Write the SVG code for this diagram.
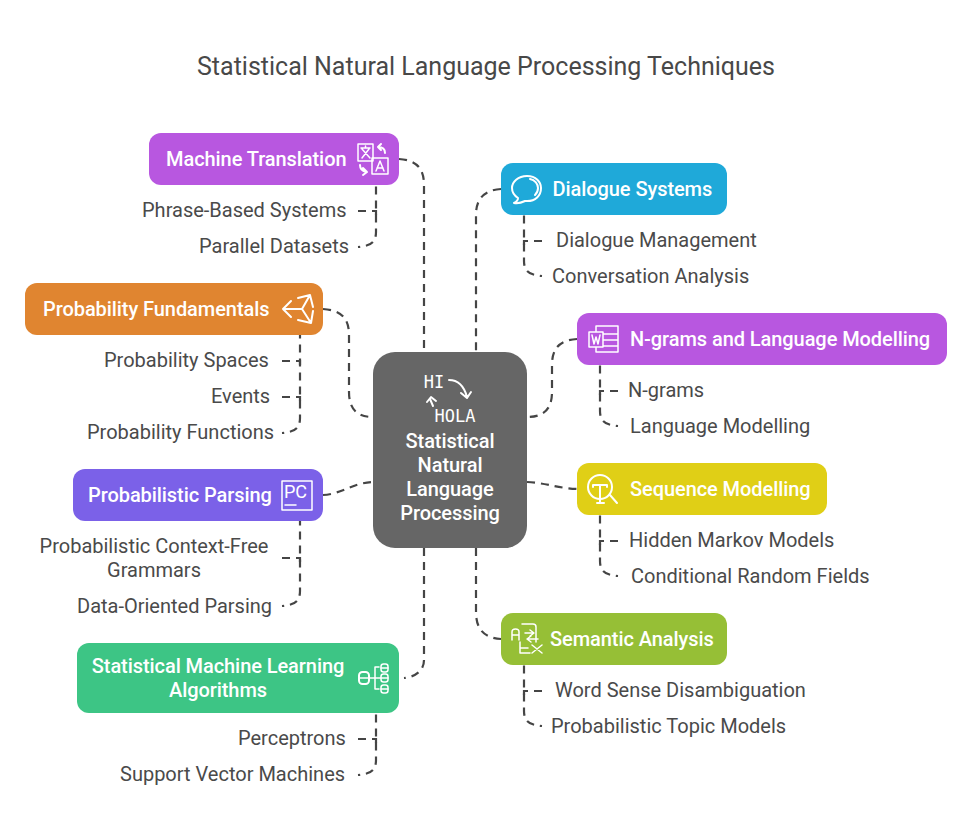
<svg xmlns="http://www.w3.org/2000/svg" width="972" height="835" viewBox="0 0 972 835">
<style>
text{font-family:Roboto,"Liberation Sans",sans-serif;font-size:20px}
.t{fill:#484848;text-anchor:middle}
.l{fill:#4a4a4a}
.n{fill:#fff;font-weight:500;letter-spacing:-.07px}
.m{fill:#fff;font-family:"DejaVu Sans Mono",monospace;font-size:17px;text-anchor:middle}
.c{fill:none;stroke:#454545;stroke-width:2.2;stroke-dasharray:8 6}
.e{stroke-dashoffset:6}
.i{fill:none;stroke:#fff;stroke-width:2;stroke-linecap:round;stroke-linejoin:round}
.s{stroke-width:1.5}
</style>
<rect width="972" height="835" fill="#fff"/>
<text class="t" x="486" y="75" style="font-size:25px">Statistical Natural Language Processing Techniques</text>
<g id="connectors">
<path class="c" d="M399 159C416 160 424 168 424 185V352"/>
<path class="c e" d="M358 247C370 246 376 243 376 232V185"/>
<path class="c" d="M358 211H376V216"/>
<path class="c" d="M323 309C341 310 349 318 349 335V392C349 409 357 417 373 417"/>
<path class="c e" d="M282 433C294 432 300 429 300 418V335"/>
<path class="c" d="M282 361H300V366M282 397H300V402"/>
<path class="c" d="M323 495C342 494 352 483 373 482"/>
<path class="c e" d="M282 606C294 605 300 602 300 591V521"/>
<path class="c" d="M282 558H300V563"/>
<path class="c" d="M424 548V660C424 671 415 677 404 678"/>
<path class="c e" d="M358 775C370 774 376 771 376 760V713"/>
<path class="c" d="M358 739H376V744"/>
<path class="c" d="M501 189C485 190 476 198 476 215V352"/>
<path class="c e" d="M542 276C530 275 524 272 524 261V215"/>
<path class="c" d="M542 241H524V246"/>
<path class="c" d="M577 339C560 340 552 348 552 365V392C552 409 544 417 527 417"/>
<path class="c e" d="M618 426C606 425 600 422 600 411V365"/>
<path class="c" d="M618 391H600V396"/>
<path class="c" d="M527 482C547 483 556 488 577 489"/>
<path class="c e" d="M618 576C606 575 600 572 600 561V515"/>
<path class="c" d="M618 541H600V546"/>
<path class="c" d="M476 548V612C476 629 484 638 501 639"/>
<path class="c e" d="M542 726C530 725 524 722 524 711V665"/>
<path class="c" d="M542 691H524V696"/>
</g>
<g id="center"><rect x="373" y="352" width="154" height="196" rx="22" fill="#666"/>
<text class="m" x="434" y="388">HI</text>
<text class="m" x="455" y="422">HOLA</text>
<path class="i" d="M449 380C458 380 464 386 467 397M461 393L467 398L471 392M433 406L430 399M427 402L431 397L436 401"/>
<text class="n" text-anchor="middle"><tspan x="450" y="448">Statistical</tspan><tspan x="450" y="472">Natural</tspan><tspan x="450" y="496">Language</tspan><tspan x="450" y="520">Processing</tspan></text></g>
<g id="machine-translation"><rect x="149" y="133" width="250" height="52" rx="12" fill="#b857e0"/>
<text class="n" x="166" y="166">Machine Translation</text>
<path class="i s" d="M358 144H373V161H358ZM361 148H370M365.500 146V148M362 158L369 149M362 149L370 158"/>
<path class="i s" d="M372 158H388V174H372ZM376 171L380 161L384 171M377 168H383"/>
<path class="i" d="M385 153C385 149 382 147 378 147M381 144L378 147L381 150M360 165C360 169 362 171 366 172M363 175L367 172L363 168" stroke-width="1.700"/>
<text class="l" x="142" y="217">Phrase-Based Systems</text>
<text class="l" x="199" y="253">Parallel Datasets</text></g>
<g id="probability-fundamentals"><rect x="25" y="283" width="298" height="52" rx="12" fill="#e08530"/>
<text class="n" x="43" y="316">Probability Fundamentals</text>
<path class="i" d="M283 309H302L310 295M302 309L311 323M291 301L283 309L291 317M298 298L310 295L313 307M298 320L311 323L313 311"/>
<text class="l" x="104" y="367">Probability Spaces</text>
<text class="l" x="211" y="403">Events</text>
<text class="l" x="87" y="439">Probability Functions</text></g>
<g id="probabilistic-parsing"><rect x="73" y="469" width="250" height="52" rx="12" fill="#7b61e8"/>
<text class="n" x="88" y="502">Probabilistic Parsing</text>
<path class="i s" d="M282 481H312V510H282ZM285 505H296"/>
<text x="284" y="498" fill="#fff" style="font-size:18px">PC</text>
<text class="l" text-anchor="middle"><tspan x="154" y="553">Probabilistic Context-Free</tspan><tspan x="154" y="577">Grammars</tspan></text>
<text class="l" x="77" y="613">Data-Oriented Parsing</text></g>
<g id="statistical-ml"><rect x="77" y="643" width="322" height="70" rx="12" fill="#3dc585"/>
<text class="n" text-anchor="middle"><tspan x="218" y="673">Statistical Machine Learning</tspan><tspan x="218" y="697">Algorithms</tspan></text>
<rect class="i" x="359" y="672" width="10" height="12" rx="3.500"/>
<rect class="i s" x="381" y="664" width="7" height="8" rx="2.500"/>
<rect class="i s" x="381" y="674" width="7" height="8" rx="2.500"/>
<rect class="i s" x="381" y="685" width="7" height="8" rx="2.500"/>
<path class="i s" d="M359 678H369M381 668H388M381 678H388M381 689H388M370 678H381M379 667H375V689H379"/>
<text class="l" x="238" y="745">Perceptrons</text>
<text class="l" x="120" y="781">Support Vector Machines</text></g>
<g id="dialogue-systems"><rect x="501" y="163" width="226" height="52" rx="12" fill="#1fa9d9"/>
<text class="n" x="552.500" y="196">Dialogue Systems</text>
<path class="i" d="M527 176C518 176 512 182 512 188C512 193 515 196 518 198C518 200 516 202 514 203C519 204 523 202 525 201C536 202 541 195 541 188C541 182 536 176 527 176ZM530 179C535 180 538 184 538 188C538 191 537 193 535 195"/>
<text class="l" x="556" y="247">Dialogue Management</text>
<text class="l" x="552" y="283">Conversation Analysis</text></g>
<g id="ngrams"><rect x="577" y="313" width="370" height="52" rx="12" fill="#b857e0"/>
<text class="n" x="630" y="346">N-grams and Language Modelling</text>
<path class="i s" d="M596 331V326H618V352H596V347M604 334H618M604 340H618M604 346H618M596 326H618M589 332H603V347H589ZM592 335L594 344L596 337L598 344L600 335"/>
<text class="l" x="628" y="397">N-grams</text>
<text class="l" x="630" y="433">Language Modelling</text></g>
<g id="sequence-modelling"><rect x="577" y="463" width="250" height="52" rx="12" fill="#e0cf16"/>
<text class="n" x="630" y="496">Sequence Modelling</text>
<circle class="i" cx="600" cy="487" r="12"/>
<path class="i" d="M593 487V485H607V487M600 485V503M597 503H604M610 495L617 503"/>
<text class="l" x="629" y="547">Hidden Markov Models</text>
<text class="l" x="631" y="583">Conditional Random Fields</text></g>
<g id="semantic-analysis"><rect x="501" y="613" width="226" height="52" rx="12" fill="#96bf36"/>
<text class="n" x="550" y="646">Semantic Analysis</text>
<path class="i s" d="M512 640V632C512 628 519 628 519 632V640M512 635H519M522 624H533C535 624 536 625 536 627V642M525 633H534M530 630L534 633L530 636M538 639H527M531 636L527 639L531 642M520 642V653H530M520 648H528M532 645L542 653M542 645L532 653"/>
<text class="l" x="555" y="697">Word Sense Disambiguation</text>
<text class="l" x="551" y="733">Probabilistic Topic Models</text></g>
</svg>
